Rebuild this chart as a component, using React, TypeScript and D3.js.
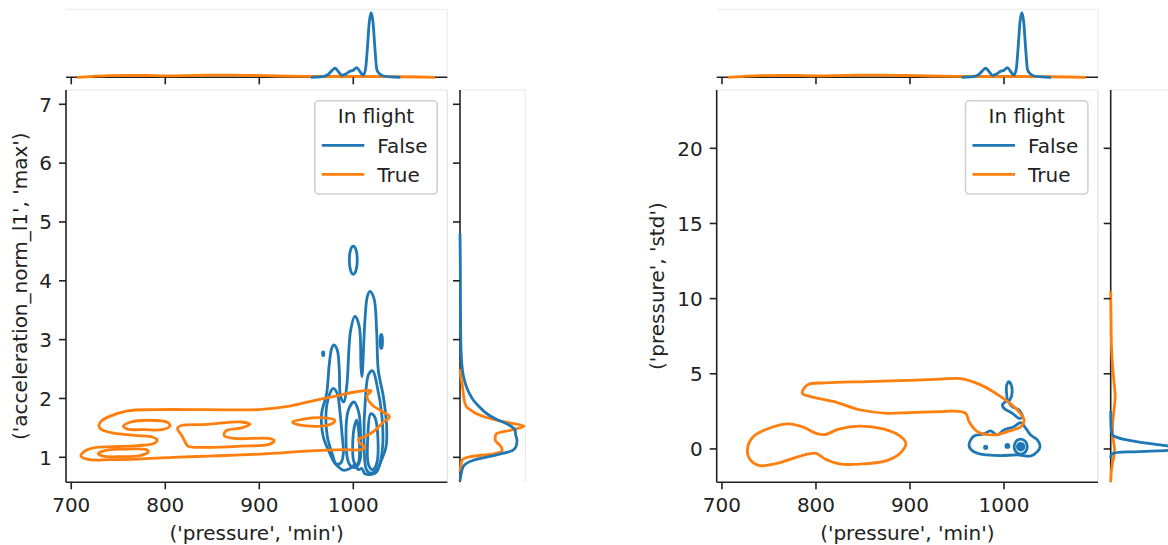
import React from "react";
import * as d3 from "d3";

type Pt = [number, number];
type Ell = [number, number, number, number]; // cx, cy, rx, ry (data units)

const FONT = "'DejaVu Sans', sans-serif";
const BLUE = "#1f77b4";
const ORANGE = "#ff7f0e";
const INK = "#222222";

// ---------- shared x axis ----------
const xDomain: [number, number] = [694.4, 1100];
const xTicks = [700, 800, 900, 1000];
const xLabel = "('pressure', 'min')";
const legendTitle = "In flight";
const legendLabels = ["False", "True"];

// ---------- top marginal (pressure min) ----------
const topMargPressureFalse = [955, 965, 972, 977, 980.5, 984, 988, 992, 996, 1000, 1003.5, 1007, 1010.5, 1013, 1015, 1017, 1019, 1021, 1023, 1025, 1027.5, 1032, 1040, 1050];
const topMargDensityFalse = [0, 0.005, 0.03, 0.1, 0.14, 0.09, 0.03, 0.05, 0.09, 0.11, 0.15, 0.09, 0.035, 0.12, 0.45, 0.85, 1.0, 0.85, 0.45, 0.12, 0.06, 0.02, 0.005, 0];
const topMargPressureTrue = [706, 720, 740, 760, 780, 800, 820, 845, 870, 895, 920, 950, 980, 1010, 1040, 1070, 1087];
const topMargDensityTrue = [0, 0.012, 0.025, 0.03, 0.028, 0.022, 0.025, 0.035, 0.035, 0.028, 0.02, 0.015, 0.012, 0.012, 0.01, 0.005, 0];

// ---------- panel 1: acceleration_norm_l1 max ----------
const accDomain: [number, number] = [0.575, 7.243];
const accTicks = [1, 2, 3, 4, 5, 6, 7];
const accLabel = "('acceleration_norm_l1', 'max')";

const accFalseOuter: Pt[] = [
  [975.2, 1.06], [968.1, 1.35], [966.3, 1.74], [971.6, 2.08], [974.5, 2.59], [977, 2.85], [979.4, 2.91], [983, 2.82], [985.1, 2.48], [986.5, 2.03], [990, 1.94], [993, 2.2], [997.2, 3.16], [1001.8, 3.4], [1006.4, 3.22], [1008.2, 2.54], [1009.2, 2.37], [1012.4, 3.33], [1014.9, 3.73], [1017.7, 3.82], [1022, 3.7], [1024.8, 3.16], [1026.6, 2.48], [1032, 2.03], [1035.5, 1.52], [1034.8, 1.18], [1028.4, 0.89], [1024.8, 0.75], [1019.5, 0.71], [1012.4, 0.72], [1008.9, 0.81], [1005.3, 0.79], [1001.8, 0.87], [996.5, 0.81], [989.4, 0.78], [984, 0.84], [979.4, 0.92],
];
const accFalseMidLeft: Pt[] = [
  [978, 1.04], [972.4, 1.35], [970.9, 1.74], [974.5, 2.06], [978.7, 2.17], [983, 2.08], [985.8, 1.77], [988, 1.4], [989.4, 1.06], [986.5, 0.9], [981.6, 0.89],
];
const accFalseMidCenter: Pt[] = [
  [994.7, 0.92], [992.2, 1.35], [994.7, 1.8], [1000.7, 1.94], [1005.7, 1.77], [1007.8, 1.35], [1007.1, 0.95], [1002.9, 0.83], [998.2, 0.84],
];
const accFalseMidRight: Pt[] = [
  [1013.5, 0.81], [1011.4, 1.29], [1012.8, 1.97], [1016.3, 2.41], [1020.6, 2.47], [1025.5, 2.2], [1030.5, 1.69], [1031.2, 1.18], [1027, 0.84], [1021.3, 0.74], [1016.3, 0.74],
];
const accFalseInnerRight: Pt[] = [
  [1016.3, 0.87], [1015.6, 1.4], [1018.5, 1.74], [1022.7, 1.69], [1026.3, 1.29], [1024.8, 0.89], [1020.6, 0.79],
];
const accFalseInnerCenter: Pt[] = [
  [1000.7, 0.92], [1000, 1.4], [1003.6, 1.63], [1006.4, 1.29], [1005.7, 0.92], [1003.6, 0.87],
];
const accFalseIslands: Ell[] = [
  [1000, 4.35, 4.2, 0.24],
  [1029.8, 2.97, 1.3, 0.12],
  [968, 2.76, 0.7, 0.03],
];

const accTrueOuter: Pt[] = [
  [710.3, 1.02], [715.8, 1.12], [726.8, 1.17], [745.2, 1.18], [770.9, 1.2], [787, 1.23], [791.5, 1.29], [787, 1.34], [770.9, 1.37], [745.2, 1.41], [732.3, 1.47], [729.4, 1.53], [732.3, 1.62], [741.5, 1.7], [759.9, 1.79], [789.2, 1.81], [844.3, 1.81], [899.4, 1.81], [928.8, 1.86], [954.5, 1.95], [983.9, 2.05], [1002.2, 2.11], [1019, 2.13], [1014.5, 2.04], [1019.5, 1.9], [1031.6, 1.77], [1038.5, 1.69], [1031.6, 1.59], [1022.4, 1.45], [1013.3, 1.36], [1005.5, 1.3], [1007.7, 1.23], [1012.5, 1.18], [1008, 1.13], [991.2, 1.13], [954.5, 1.11], [917.8, 1.07], [881, 1.04], [844.3, 1.02], [807.6, 1.0], [770.9, 0.97], [741.5, 0.96], [719.5, 0.96],
];
const accTrueUpperLeft: Pt[] = [
  [755.5, 1.53], [763.5, 1.6], [781.9, 1.63], [802.9, 1.59], [804.8, 1.53], [796.6, 1.47], [778.2, 1.47], [759.9, 1.48],
];
const accTrueMiddle: Pt[] = [
  [813.1, 1.5], [816.8, 1.54], [844.3, 1.56], [881, 1.6], [890.2, 1.56], [881, 1.5], [864.5, 1.45], [862.7, 1.37], [873.7, 1.32], [910.4, 1.32], [915.9, 1.28], [910.4, 1.22], [881, 1.19], [844.3, 1.17], [824.1, 1.19], [820.5, 1.28], [816.8, 1.39], [814.2, 1.44],
];
const accTrueRightSmall: Pt[] = [
  [935.4, 1.6], [947.2, 1.65], [969.2, 1.67], [980.2, 1.63], [978.4, 1.58], [965.5, 1.53], [947.2, 1.54], [937.9, 1.57],
];
const accTrueLowerLeft: Pt[] = [
  [728.7, 1.06], [737.7, 1.12], [758.9, 1.14], [780.2, 1.13], [781.9, 1.09], [773.1, 1.03], [751.8, 1.01], [734, 1.02],
];

const rmAccFalse = [0.6, 0.67, 0.84, 0.95, 1.04, 1.12, 1.2, 1.29, 1.38, 1.46, 1.57, 1.65, 1.74, 1.86, 1.97, 2.1, 2.2, 2.4, 2.6, 3.0, 3.5, 4.0, 4.4, 4.8];
const rmAccDensFalse = [0, 0.01, 0.05, 0.21, 0.57, 0.83, 0.88, 0.89, 0.87, 0.86, 0.73, 0.56, 0.42, 0.3, 0.21, 0.14, 0.1, 0.05, 0.027, 0.012, 0.008, 0.006, 0.004, 0];
const rmAccTrue = [0.75, 0.84, 0.95, 1.01, 1.06, 1.12, 1.18, 1.23, 1.29, 1.35, 1.4, 1.47, 1.53, 1.58, 1.63, 1.68, 1.74, 1.8, 1.86, 1.95, 2.05, 2.2, 2.35, 2.5];
const rmAccDensTrue = [0, 0.01, 0.03, 0.16, 0.53, 0.66, 0.64, 0.6, 0.55, 0.55, 0.57, 0.83, 1.0, 0.8, 0.57, 0.4, 0.26, 0.17, 0.1, 0.07, 0.055, 0.04, 0.015, 0];

// ---------- panel 2: pressure std ----------
const stdDomain: [number, number] = [-2.22, 23.88];
const stdTicks = [0, 5, 10, 15, 20];
const stdLabel = "('pressure', 'std')";

const stdFalseOuter: Pt[] = [
  [964.6, 0.6], [968.1, 0.86], [978.7, 1.0], [985.8, 1.2], [992.9, 0.93], [999.9, 1.26], [1010.5, 1.48], [1017.8, 1.75], [1023.1, 1.38], [1028.4, 0.93], [1035.5, 0.6], [1038.3, 0.15], [1035.5, -0.18], [1028.4, -0.47], [1014.3, -0.4], [996.5, -0.44], [982.3, -0.4], [971.7, -0.29], [964.6, -0.02], [962.8, 0.27],
];
const stdFalseStem: Pt[] = [
  [1005.3, 4.48], [1008.2, 4.15], [1007.9, 3.48], [1005.3, 3.15], [1008.9, 2.81], [1016, 2.59], [1019.6, 2.15], [1016, 2.04], [1008.9, 2.37], [1000, 2.71], [998.3, 2.93], [1002.9, 3.26], [1002.6, 3.81], [1002.9, 4.26],
];
const stdFalseIslands: Ell[] = [
  [980.5, 0.11, 1.2, 0.08],
  [1003.6, 0.2, 1.6, 0.1],
  [1017.8, 0.15, 7.0, 0.5],
  [1017.8, 0.15, 3.5, 0.22],
  [1017.8, 0.15, 1.4, 0.09],
];
const stdTrueLower: Pt[] = [
  [727, -0.09], [732.7, 0.78], [748.1, 1.33], [771.2, 1.67], [786.6, 1.44], [802, 1.0], [809.7, 0.96], [825.1, 1.33], [846, 1.52], [871.4, 1.33], [888.7, 0.89], [895.6, 0.4], [890.6, -0.22], [875.2, -0.78], [848.2, -1.0], [825.1, -1.0], [809.7, -0.67], [800.1, -0.29], [792.4, -0.33], [778.9, -0.56], [755.8, -1.0], [740.4, -1.11], [730.8, -0.78],
];
const stdTrueUpper: Pt[] = [
  [785.5, 3.7], [790.9, 4.26], [810, 4.4], [854.7, 4.48], [900, 4.56], [932.7, 4.64], [953.9, 4.68], [975.2, 4.26], [996.5, 3.48], [1014.3, 2.59], [1021.3, 1.93], [1017.8, 1.48], [1003.6, 1.15], [989.4, 0.93], [971.7, 1.15], [962.8, 1.82], [959.3, 2.37], [945, 2.52], [932.7, 2.48], [900, 2.42], [876, 2.37], [847.6, 2.59], [819.1, 3.15], [794.4, 3.48],
];

const rmStdFalse = [-0.6, -0.4, -0.28, -0.2, -0.1, 0.05, 0.2, 0.38, 0.6, 0.82, 1.0, 1.5, 2.5];
const rmStdDensFalse = [0, 0.008, 0.05, 0.25, 0.89, 1.0, 0.89, 0.56, 0.25, 0.067, 0.02, 0.005, 0];
const rmStdTrue = [-2.2, -1.5, -1, -0.5, 0, 0.5, 1, 1.5, 2.5, 3.5, 4.5, 5.5, 6.5, 8, 9.5, 10.5];
const rmStdDensTrue = [0, 0.01, 0.025, 0.05, 0.06, 0.045, 0.03, 0.028, 0.05, 0.07, 0.05, 0.03, 0.015, 0.007, 0.003, 0];

// ---------- layout ----------
const MAIN = { left: 66, right: 447.3, top: 90, bottom: 482.3 };
const TOPM = { top: 9.3, bottom: 77.3 };
const RIGHTM = { left: 460, right: 525.3 };
const TICK = 7;
const FS = 20;

interface JointProps {
  id: string;
  dx: number;
  yDomain: [number, number];
  yTicks: number[];
  yLabel: string;
  yLabelX: number;
  falseLines: Pt[][];
  trueLines: Pt[][];
  falseIslands: Ell[];
  trueIslands: Ell[];
  rmValsFalse: number[];
  rmDensFalse: number[];
  rmValsTrue: number[];
  rmDensTrue: number[];
}

function Joint(p: JointProps) {
  const L = MAIN.left + p.dx;
  const R = MAIN.right + p.dx;
  const x = d3.scaleLinear().domain(xDomain).range([L, R]);
  const y = d3.scaleLinear().domain(p.yDomain).range([MAIN.bottom, MAIN.top]);
  const tmY = d3.scaleLinear().domain([0, 1.05]).range([TOPM.bottom, TOPM.top]);
  const rmL = RIGHTM.left + p.dx;
  const rmR = RIGHTM.right + p.dx;
  const rmX = d3.scaleLinear().domain([0, 1.02]).range([rmL, rmR]);

  const contour = d3
    .line<Pt>()
    .x((d) => x(d[0]))
    .y((d) => y(d[1]))
    .curve(d3.curveCatmullRomClosed.alpha(0.5));

  const topLine = d3
    .line<Pt>()
    .x((d) => x(d[0]))
    .y((d) => tmY(d[1]))
    .curve(d3.curveMonotoneX);

  const rightLine = d3
    .line<Pt>()
    .x((d) => rmX(d[1]))
    .y((d) => y(d[0]))
    .curve(d3.curveMonotoneY);

  const topFalse: Pt[] = topMargPressureFalse.map((v, i) => [v, topMargDensityFalse[i]]);
  const topTrue: Pt[] = topMargPressureTrue.map((v, i) => [v, topMargDensityTrue[i]]);
  const rmFalse: Pt[] = p.rmValsFalse.map((v, i) => [v, p.rmDensFalse[i]] as Pt).sort((a, b) => b[0] - a[0]);
  const rmTrue: Pt[] = p.rmValsTrue.map((v, i) => [v, p.rmDensTrue[i]] as Pt).sort((a, b) => b[0] - a[0]);

  const ell = (e: Ell, color: string, k: string) => (
    <ellipse
      key={k}
      cx={x(e[0])}
      cy={y(e[1])}
      rx={Math.abs(x(e[0] + e[2]) - x(e[0]))}
      ry={Math.abs(y(e[1]) - y(e[1] + e[3]))}
      fill="none"
      stroke={color}
      strokeWidth={2.8}
    />
  );

  const legX = 314.8 + p.dx;
  const legY = 100.7;

  return (
    <g>
      <defs>
        <clipPath id={p.id + "-main"}>
          <rect x={L} y={MAIN.top} width={R - L} height={MAIN.bottom - MAIN.top} />
        </clipPath>
        <clipPath id={p.id + "-rm"}>
          <rect x={rmL - 2} y={MAIN.top} width={rmR - rmL + 4} height={MAIN.bottom - MAIN.top} />
        </clipPath>
      </defs>

      {/* ---------- top marginal ---------- */}
      <line x1={L} x2={R} y1={TOPM.top} y2={TOPM.top} stroke="#ececec" strokeWidth={1} />
      <line x1={R} x2={R} y1={TOPM.top} y2={TOPM.bottom} stroke="#ececec" strokeWidth={1} />
      <line x1={L} x2={R} y1={TOPM.bottom} y2={TOPM.bottom} stroke={INK} strokeWidth={1.6} />
      <path d={topLine(topTrue) ?? ""} fill="none" stroke={ORANGE} strokeWidth={2.8} />
      <path d={topLine(topFalse) ?? ""} fill="none" stroke={BLUE} strokeWidth={2.8} />
      {xTicks.map((t) => (
        <line key={"tt" + t} x1={x(t)} x2={x(t)} y1={TOPM.bottom} y2={TOPM.bottom + TICK} stroke={INK} strokeWidth={1.6} />
      ))}

      {/* ---------- right marginal ---------- */}
      <line x1={rmL} x2={rmR} y1={MAIN.top} y2={MAIN.top} stroke="#e6e6e6" strokeWidth={1} />
      <line x1={rmR} x2={rmR} y1={MAIN.top} y2={MAIN.bottom} stroke="#e6e6e6" strokeWidth={1} />
      <line x1={rmL} x2={rmL} y1={MAIN.top} y2={MAIN.bottom} stroke={INK} strokeWidth={1.6} />
      <g clipPath={`url(#${p.id}-rm)`}>
        <path d={rightLine(rmTrue) ?? ""} fill="none" stroke={ORANGE} strokeWidth={2.8} />
        <path d={rightLine(rmFalse) ?? ""} fill="none" stroke={BLUE} strokeWidth={2.8} />
      </g>
      {p.yTicks.map((t) => (
        <line key={"rt" + t} x1={rmL - TICK} x2={rmL} y1={y(t)} y2={y(t)} stroke={INK} strokeWidth={1.6} />
      ))}

      {/* ---------- main ---------- */}
      <line x1={L} x2={R} y1={MAIN.top} y2={MAIN.top} stroke="#e6e6e6" strokeWidth={1} />
      <line x1={R} x2={R} y1={MAIN.top} y2={MAIN.bottom} stroke="#dcdcdc" strokeWidth={1} />
      <g clipPath={`url(#${p.id}-main)`}>
        {p.falseLines.map((c, i) => (
          <path key={"f" + i} d={contour(c) ?? ""} fill="none" stroke={BLUE} strokeWidth={2.8} strokeLinejoin="round" />
        ))}
        {p.falseIslands.map((e, i) => ell(e, BLUE, "fe" + i))}
        {p.trueLines.map((c, i) => (
          <path key={"t" + i} d={contour(c) ?? ""} fill="none" stroke={ORANGE} strokeWidth={2.8} strokeLinejoin="round" />
        ))}
        {p.trueIslands.map((e, i) => ell(e, ORANGE, "te" + i))}
      </g>
      <line x1={L} x2={L} y1={MAIN.top} y2={MAIN.bottom} stroke={INK} strokeWidth={1.6} />
      <line x1={L} x2={R} y1={MAIN.bottom} y2={MAIN.bottom} stroke={INK} strokeWidth={1.6} />

      {xTicks.map((t) => (
        <g key={"xt" + t}>
          <line x1={x(t)} x2={x(t)} y1={MAIN.bottom} y2={MAIN.bottom + TICK} stroke={INK} strokeWidth={1.6} />
          <text x={x(t)} y={511.7} textAnchor="middle" fontSize={FS} fill={INK}>
            {t}
          </text>
        </g>
      ))}
      {p.yTicks.map((t) => (
        <g key={"yt" + t}>
          <line x1={L - TICK} x2={L} y1={y(t)} y2={y(t)} stroke={INK} strokeWidth={1.6} />
          <text x={L - TICK - 7} y={y(t) + 7.3} textAnchor="end" fontSize={FS} fill={INK}>
            {t}
          </text>
        </g>
      ))}
      <text x={(L + R) / 2} y={540} textAnchor="middle" fontSize={FS} fill={INK}>
        {xLabel}
      </text>
      <text
        transform={`translate(${p.yLabelX},${(MAIN.top + MAIN.bottom) / 2}) rotate(-90)`}
        textAnchor="middle"
        fontSize={FS}
        fill={INK}
      >
        {p.yLabel}
      </text>

      {/* ---------- legend ---------- */}
      <rect x={legX} y={legY} width={122.4} height={93.3} rx={4} fill="white" fillOpacity={0.8} stroke="#d0d0d0" strokeWidth={1.6} />
      <text x={legX + 61.2} y={123} textAnchor="middle" fontSize={FS} fill={INK}>
        {legendTitle}
      </text>
      {legendLabels.map((lab, i) => (
        <g key={lab}>
          <line x1={legX + 7} x2={legX + 49.5} y1={145.3 + i * 29} y2={145.3 + i * 29} stroke={i === 0 ? BLUE : ORANGE} strokeWidth={2.8} />
          <text x={legX + 62.5} y={153 + i * 29} fontSize={FS} fill={INK}>
            {lab}
          </text>
        </g>
      ))}
    </g>
  );
}

export default function App() {
  return (
    <svg
      width={1168}
      height={545}
      style={{ position: "absolute", left: 0, top: 0, fontFamily: FONT }}
    >
      <rect width={1168} height={545} fill="white" />
      <Joint
        id="p1"
        dx={0}
        yDomain={accDomain}
        yTicks={accTicks}
        yLabel={accLabel}
        yLabelX={27}
        falseLines={[accFalseOuter, accFalseMidLeft, accFalseMidCenter, accFalseMidRight, accFalseInnerRight, accFalseInnerCenter]}
        trueLines={[accTrueOuter, accTrueUpperLeft, accTrueMiddle, accTrueRightSmall, accTrueLowerLeft]}
        falseIslands={accFalseIslands}
        trueIslands={[]}
        rmValsFalse={rmAccFalse}
        rmDensFalse={rmAccDensFalse}
        rmValsTrue={rmAccTrue}
        rmDensTrue={rmAccDensTrue}
      />
      <Joint
        id="p2"
        dx={650.7}
        yDomain={stdDomain}
        yTicks={stdTicks}
        yLabel={stdLabel}
        yLabelX={664.3}
        falseLines={[stdFalseOuter, stdFalseStem]}
        trueLines={[stdTrueLower, stdTrueUpper]}
        falseIslands={stdFalseIslands}
        trueIslands={[]}
        rmValsFalse={rmStdFalse}
        rmDensFalse={rmStdDensFalse}
        rmValsTrue={rmStdTrue}
        rmDensTrue={rmStdDensTrue}
      />
    </svg>
  );
}
